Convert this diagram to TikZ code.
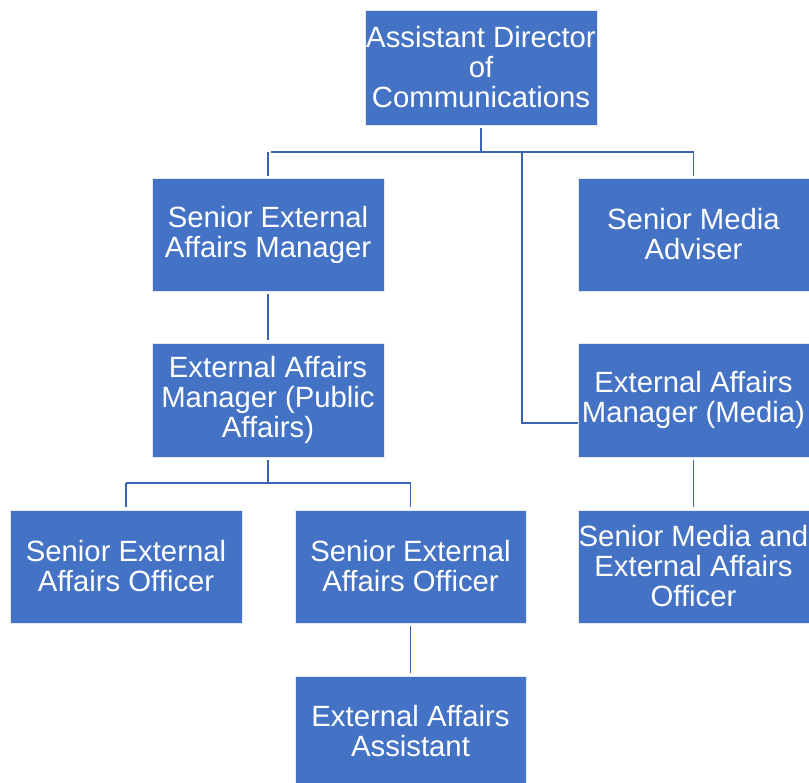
\documentclass[tikz,border=0pt]{standalone}
\usepackage{fontspec}
\setmainfont{Liberation Sans}
\definecolor{boxblue}{HTML}{4472C4}
\definecolor{lineblue}{HTML}{3A64B0}
\begin{document}
\begin{tikzpicture}[x=1pt,y=-1pt,
  orgbox/.style={draw=white!85!boxblue, line width=0.8pt, fill=boxblue, text=white,
    inner sep=0pt, align=center, font=\fontsize{29.3}{30}\selectfont},
  conn/.style={draw=lineblue, line width=1.8pt}]
\useasboundingbox (0,0) rectangle (809,783);
\node[orgbox, minimum width=232pt, minimum height=115pt] (top) at (481,67.5) {Assistant Director\\of\\Communications};
\node[orgbox, minimum width=232pt, minimum height=113pt] (sam) at (268,234.5) {Senior External\\Affairs Manager};
\node[orgbox, minimum width=231pt, minimum height=113pt] (sma) at (693.5,234.5) {Senior Media\\Adviser};
\node[orgbox, minimum width=232pt, minimum height=114pt] (eapa) at (268,400) {External Affairs\\Manager (Public\\Affairs)};
\node[orgbox, minimum width=231pt, minimum height=114pt] (eam) at (693.5,400) {External Affairs\\Manager (Media)};
\node[orgbox, minimum width=232pt, minimum height=113pt] (seo1) at (126,566.5) {Senior External\\Affairs Officer};
\node[orgbox, minimum width=231pt, minimum height=113pt] (seo2) at (410.5,566.5) {Senior External\\Affairs Officer};
\node[orgbox, minimum width=231pt, minimum height=113pt] (smeao) at (693.5,566.5) {Senior Media and\\External Affairs\\Officer};
\node[orgbox, minimum width=231pt, minimum height=110pt] (eaa) at (410.5,731) {External Affairs\\Assistant};
\coordinate (bus) at (0,152);
\coordinate (mtop) at (522,152);
\coordinate (mbend) at (522,423);
\coordinate (bus2) at (0,483);
\draw[conn, shorten <=3pt] (top.south) -- (top.south |- bus);
\draw[conn, shorten <=3pt, shorten >=2pt] (sam.north |- bus) -- (sma.north |- bus) -- (sma.north);
\draw[conn, shorten >=2pt] (sam.north |- bus) -- (sam.north);
\draw[conn] (mtop) -- (mbend) -- (eam.west |- mbend);
\draw[conn, shorten <=3pt, shorten >=3pt] (sam.south) -- (eapa.north);
\draw[conn, shorten <=3pt] (eapa.south) -- (eapa.south |- bus2);
\draw[conn, shorten >=3pt] (seo1.north |- bus2) -- (seo1.north);
\draw[conn, shorten >=3pt] (seo1.north |- bus2) -- (seo2.north |- bus2) -- (seo2.north);
\draw[conn, shorten <=3pt, shorten >=3pt] (eam.south) -- (smeao.north);
\draw[conn, shorten <=3pt, shorten >=3pt] (seo2.south) -- (eaa.north);
\end{tikzpicture}
\end{document}
